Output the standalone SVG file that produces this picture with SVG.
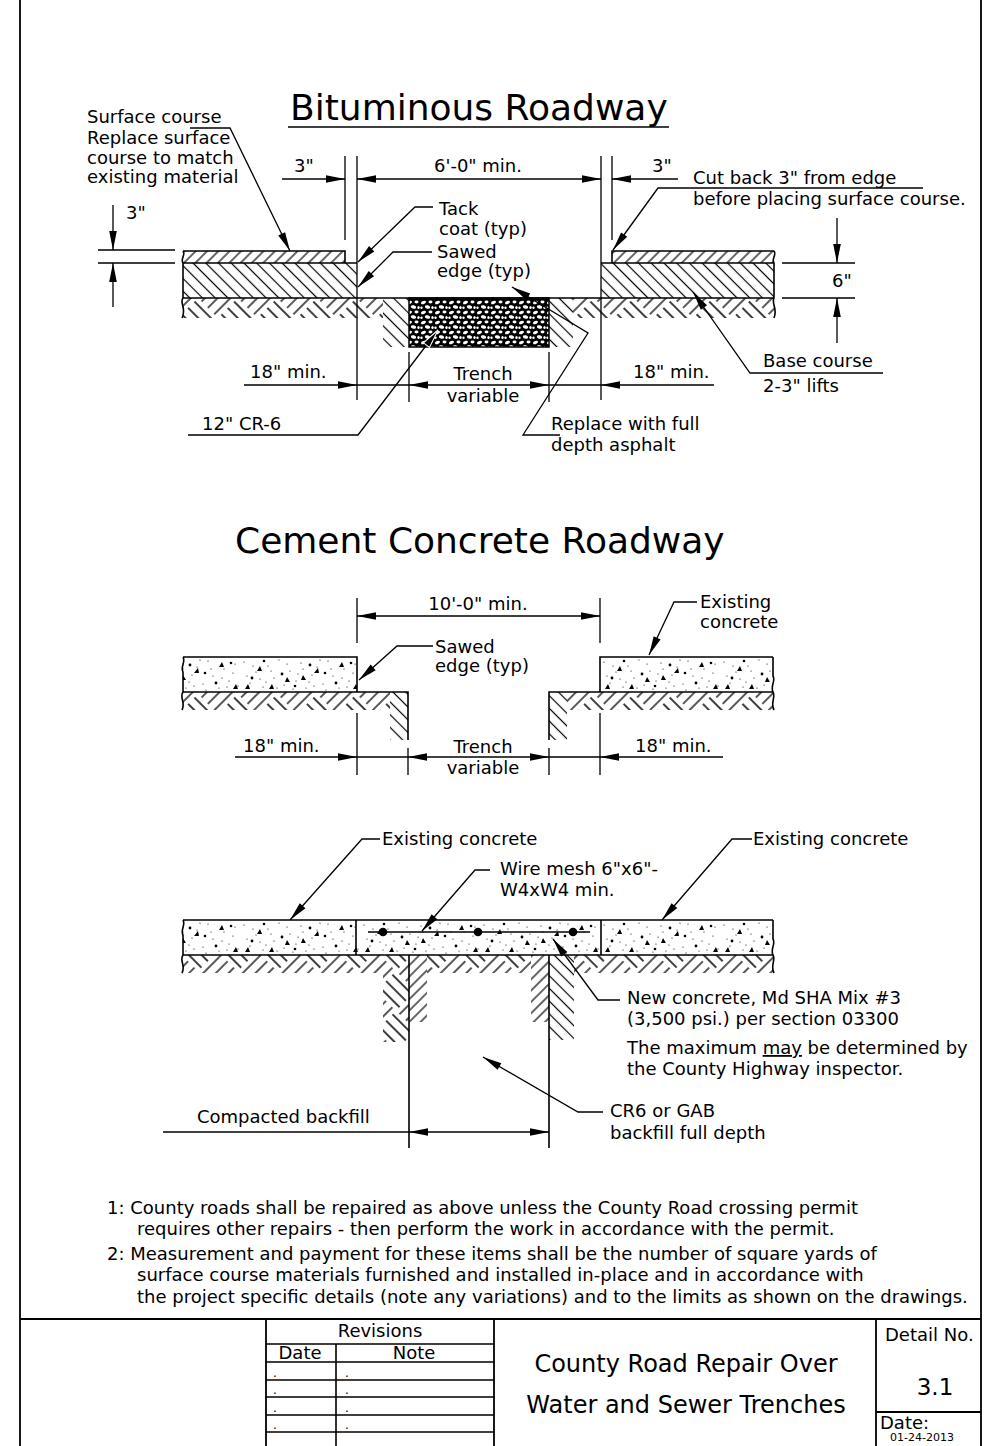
<svg xmlns="http://www.w3.org/2000/svg" width="984" height="1446" viewBox="0 0 984 1446">
<style>
text{font-family:"DejaVu Sans",Verdana,sans-serif;font-size:18px;fill:#000}
.h{font-size:36px}
.tb{font-size:24px}
.m{text-anchor:middle}
.dot{font-size:12px}
.ln{fill:none;stroke:#000;stroke-width:1.3}
.ol{fill:none;stroke:#000;stroke-width:1.6}
.th{fill:none;stroke:#000;stroke-width:1.8}
.a1{marker-end:url(#ar)}
.a2{marker-start:url(#ar);marker-end:url(#ar)}
</style>
<defs>
<marker id="ar" viewBox="-21 -5 22 10" refX="0" refY="0" markerWidth="22" markerHeight="10" markerUnits="userSpaceOnUse" orient="auto-start-reverse"><path d="M0,0 L-19,-3.8 L-19,3.8 Z" fill="#000"/></marker>
<marker id="arw" viewBox="-22 -6 24 12" refX="0" refY="0" markerWidth="24" markerHeight="12" markerUnits="userSpaceOnUse" orient="auto"><path d="M0,0 L-19,-3.8 L-19,3.8 Z" fill="#000" stroke="#fff" stroke-width="1"/></marker>
<pattern id="hs" width="8" height="8" patternUnits="userSpaceOnUse" patternTransform="rotate(45)"><line x1="4" y1="0" x2="4" y2="8" stroke="#000" stroke-width="1.2"/></pattern>
<pattern id="hb" width="9" height="9" patternUnits="userSpaceOnUse" patternTransform="rotate(-45)"><line x1="4.5" y1="0" x2="4.5" y2="9" stroke="#000" stroke-width="1.2"/></pattern>
<pattern id="ea" width="56" height="56" patternUnits="userSpaceOnUse" patternTransform="translate(0,298) rotate(45)"><path d="M0,5H28M0,14H28M0,23H28M28,33H56M28,42H56M28,51H56M33,0V28M42,0V28M51,0V28M5,28V56M14,28V56M23,28V56" stroke="#000" stroke-width="1.3" fill="none"/></pattern>
<pattern id="cr" width="14" height="10" patternUnits="userSpaceOnUse"><rect width="14" height="10" fill="#000"/><ellipse cx="3.5" cy="2.5" rx="2.6" ry="1.6" transform="rotate(-20 3.5 2.5)" fill="#fff"/><ellipse cx="10.5" cy="2" rx="2" ry="1.4" fill="#fff"/><ellipse cx="7.5" cy="7" rx="2.7" ry="1.7" transform="rotate(15 7.5 7)" fill="#fff"/><ellipse cx="1.5" cy="7.8" rx="1.2" ry="1.2" fill="#fff"/><ellipse cx="12.5" cy="7.5" rx="1.2" ry="1.5" fill="#fff"/></pattern>
<g id="stip" fill="#000">
<circle cx="4" cy="5" r="0.6"/><circle cx="10" cy="26" r="0.6"/><circle cx="16" cy="15" r="0.6"/><circle cx="23" cy="30" r="0.6"/><circle cx="28" cy="9" r="0.6"/><circle cx="34" cy="21" r="0.6"/><circle cx="39" cy="3" r="0.6"/><circle cx="44" cy="28" r="0.6"/><circle cx="50" cy="14" r="0.6"/><circle cx="56" cy="24" r="0.6"/><circle cx="61" cy="6" r="0.6"/><circle cx="66" cy="31" r="0.6"/><circle cx="72" cy="18" r="0.6"/><circle cx="77" cy="10" r="0.6"/><circle cx="83" cy="27" r="0.6"/><circle cx="88" cy="4" r="0.6"/><circle cx="93" cy="19" r="0.6"/><circle cx="99" cy="31" r="0.6"/><circle cx="104" cy="12" r="0.6"/><circle cx="109" cy="24" r="0.6"/><circle cx="115" cy="7" r="0.6"/><circle cx="118" cy="29" r="0.6"/><circle cx="7" cy="19" r="0.6"/><circle cx="20" cy="22" r="0.6"/><circle cx="31" cy="14" r="0.6"/><circle cx="47" cy="7" r="0.6"/><circle cx="58" cy="17" r="0.6"/><circle cx="69" cy="25" r="0.6"/><circle cx="80" cy="3" r="0.6"/><circle cx="91" cy="12" r="0.6"/><circle cx="102" cy="21" r="0.6"/><circle cx="113" cy="16" r="0.6"/><circle cx="13" cy="9" r="0.6"/><circle cx="37" cy="31" r="0.6"/><circle cx="63" cy="12" r="0.6"/><circle cx="86" cy="33" r="0.6"/><circle cx="107" cy="30" r="0.6"/><circle cx="26" cy="25" r="0.6"/><circle cx="53" cy="32" r="0.6"/><circle cx="74" cy="29" r="0.6"/>
<circle cx="12" cy="21" r="1.4"/><circle cx="42" cy="17" r="1.4"/><circle cx="70" cy="8" r="1.4"/><circle cx="96" cy="26" r="1.4"/><circle cx="24" cy="4" r="1.3"/><circle cx="85" cy="16" r="1.3"/><circle cx="111" cy="6" r="1.3"/><circle cx="55" cy="29" r="1.3"/>
<polygon points="17,14 22,14 20,9"/><polygon points="45,25 50,25 47,20"/><polygon points="74,16 79,16 78,11"/><polygon points="99,10 104,10 102,5"/><polygon points="29,32 34,32 32,27"/><polygon points="61,23 66,23 63,18"/><polygon points="113,32 118,32 116,27"/><polygon points="5,32 10,32 8,27"/>
</g>
<pattern id="st1" x="0" y="657" width="120" height="35" patternUnits="userSpaceOnUse"><use href="#stip"/></pattern>
<pattern id="st2" x="0" y="920" width="120" height="35" patternUnits="userSpaceOnUse"><use href="#stip"/></pattern>
</defs>
<rect width="984" height="1446" fill="#fff"/>

<g id="frame"><path class="th" d="M20,0 V1446 M981,0 V1446"/></g>

<g id="bituminous-roadway">
<text class="h" x="290" y="120">Bituminous Roadway</text>
<path class="ln" d="M288,127 H669"/>
<rect x="183" y="251" width="162" height="12" fill="url(#hs)"/>
<rect x="183" y="263" width="174" height="35" fill="url(#hb)"/>
<rect x="612" y="251" width="162" height="12" fill="url(#hs)"/>
<rect x="601" y="263" width="173" height="35" fill="url(#hb)"/>
<rect x="183" y="298" width="591" height="20" fill="url(#ea)"/>
<rect x="383" y="298" width="26" height="49" fill="#fff"/><rect x="383" y="298" width="26" height="49" fill="url(#hb)"/>
<rect x="549" y="298" width="24" height="49" fill="#fff"/><rect x="549" y="298" width="24" height="49" fill="url(#hb)"/>
<rect x="409" y="298" width="140" height="49" fill="url(#cr)" stroke="#000" stroke-width="1.5"/>
<path class="ol" d="M183,251 H345 V263 M183,263 H357 M183,298 H774 M612,263 V251 H774 M601,263 H774 M183,251 C186,255 180,259 183,263 L183,298 C179,303 187,308 182,318 M774,251 C777,255 771,259 774,263 L774,298 C771,303 778,309 774,318"/>
</g>

<g id="bituminous-dimensions">
<path class="ln" d="M345,156 V240 M357,156 V400 M601,156 V400 M612,156 V240 M409,352 V402 M549,352 V402 M98,250 H175 M98,263 H175 M782,263 H855 M782,298 H855 M357,385 H409 M549,385 H601"/>
<path class="ln a1" d="M113,205 V250"/><path class="ln a1" d="M113,307 V263"/>
<path class="ln a1" d="M837,218 V263"/><path class="ln a1" d="M837,343 V298"/>
<path class="ln a1" d="M282,179 H345"/><path class="ln a2" d="M357,179 H601"/><path class="ln a1" d="M678,179 H612"/>
<path class="ln a1" d="M244,385 H357"/><path class="ln a2" d="M409,385 H549"/><path class="ln a1" d="M714,385 H601"/>
<text x="126" y="219">3"</text>
<text x="294" y="172">3"</text>
<text class="m" x="478" y="172">6'-0" min.</text>
<text x="652" y="172">3"</text>
<text x="832" y="287">6"</text>
<text x="250" y="378">18" min.</text>
<text class="m" x="483" y="380">Trench</text>
<text class="m" x="483" y="402">variable</text>
<text x="633" y="378">18" min.</text>
</g>

<g id="bituminous-leaders">
<path class="ln a1" d="M190,128 H230 L290,251"/>
<path class="ln a1" d="M433,207 H415 L358,262"/>
<path class="ln a1" d="M432,252 H393 L358,287"/>
<path class="ln a1" d="M923,188 H658 L613,250"/>
<path class="ln a1" d="M883,373 H750 L693,292"/>
<path class="ln a1" d="M560,435 H523 L588,333 L512,287"/>
<path class="ln" d="M188,435 H358 L438,330" marker-end="url(#arw)"/>
<text x="87" y="123">Surface course</text>
<text x="87" y="144">Replace surface</text>
<text x="87" y="164">course to match</text>
<text x="87" y="183">existing material</text>
<text x="439" y="215">Tack</text>
<text x="439" y="235">coat (typ)</text>
<text x="437" y="258">Sawed</text>
<text x="437" y="277">edge (typ)</text>
<text x="693" y="184">Cut back 3" from edge</text>
<text x="693" y="205">before placing surface course.</text>
<text x="763" y="367">Base course</text>
<text x="763" y="392">2-3" lifts</text>
<text x="202" y="430">12" CR-6</text>
<text x="551" y="430">Replace with full</text>
<text x="551" y="451">depth asphalt</text>
</g>

<g id="cement-concrete-roadway">
<text class="h" x="235" y="553">Cement Concrete Roadway</text>
<rect x="183" y="692" width="225" height="18" fill="url(#ea)"/>
<rect x="549" y="692" width="224" height="18" fill="url(#ea)"/>
<rect x="390" y="692" width="18" height="48" fill="#fff"/><rect x="390" y="692" width="18" height="48" fill="url(#hb)"/>
<rect x="549" y="692" width="18" height="48" fill="#fff"/><rect x="549" y="692" width="18" height="48" fill="url(#hb)"/>
<rect x="183" y="657" width="174" height="35" fill="url(#st1)"/>
<rect x="600" y="657" width="173" height="35" fill="url(#st1)"/>
<path class="ol" d="M183,657 H357 V692 M183,692 H408 V740 M600,692 V657 H773 M549,740 V692 H773 M183,657 C186,662 180,667 183,672 L183,692 C179,697 186,703 182,710 M773,657 L773,676 C776,681 770,686 773,692 C776,697 770,703 774,710"/>
<path class="ln" d="M357,598 V643 M600,598 V643 M357,713 V775 M600,713 V775 M408,748 V775 M549,748 V775 M357,757 H408 M549,757 H600"/>
<path class="ln a2" d="M357,616 H600"/>
<path class="ln a1" d="M235,757 H357"/><path class="ln a2" d="M408,757 H549"/><path class="ln a1" d="M723,757 H600"/>
<path class="ln a1" d="M433,646 H397 L359,680"/>
<path class="ln a1" d="M697,602 H674 L649,655"/>
<text class="m" x="478" y="610">10'-0" min.</text>
<text x="435" y="653">Sawed</text>
<text x="435" y="672">edge (typ)</text>
<text x="700" y="608">Existing</text>
<text x="700" y="628">concrete</text>
<text x="243" y="752">18" min.</text>
<text class="m" x="483" y="753">Trench</text>
<text class="m" x="483" y="774">variable</text>
<text x="635" y="752">18" min.</text>
</g>

<g id="concrete-repair-detail">
<rect x="183" y="955" width="590" height="18" fill="url(#ea)"/>
<rect x="383" y="955" width="26" height="87" fill="#fff"/><rect x="383" y="955" width="26" height="87" fill="url(#ea)"/>
<rect x="409" y="955" width="18" height="67" fill="#fff"/><rect x="409" y="955" width="18" height="67" fill="url(#hs)"/>
<rect x="531" y="955" width="18" height="67" fill="#fff"/><rect x="531" y="955" width="18" height="67" fill="url(#hs)"/>
<rect x="549" y="955" width="25" height="85" fill="#fff"/><rect x="549" y="955" width="25" height="85" fill="url(#hb)"/>
<rect x="183" y="920" width="590" height="35" fill="url(#st2)"/>
<path class="ol" d="M183,920 H773 M183,955 H773 M356,920 V955 M601,920 V955 M409,955 V1148 M549,955 V1148 M183,920 C186,925 180,930 183,935 L183,955 C179,960 186,966 182,973 M773,920 L773,939 C776,944 770,949 773,955 C776,960 770,966 774,973"/>
<path class="ln" d="M368,932 H590"/>
<circle cx="383" cy="932" r="4.3"/><circle cx="478" cy="932" r="4.3"/><circle cx="573" cy="932" r="4.3"/>
<path class="ln" d="M163,1132 H409"/>
<path class="ln a2" d="M409,1132 H549"/>
<path class="ln a1" d="M380,839 H362 L290,920"/>
<path class="ln a1" d="M490,870 H475 L422,931"/>
<path class="ln a1" d="M752,839 H732 L662,920"/>
<path class="ln a1" d="M620,1000 H598 L553,939"/>
<path class="ln a1" d="M603,1112 H578 L483,1057"/>
<text x="382" y="845">Existing concrete</text>
<text x="753" y="845">Existing concrete</text>
<text x="500" y="875">Wire mesh 6"x6"-</text>
<text x="500" y="896">W4xW4 min.</text>
<text x="627" y="1004">New concrete, Md SHA Mix #3</text>
<text x="627" y="1025">(3,500 psi.) per section 03300</text>
<text x="627" y="1054">The maximum <tspan text-decoration="underline">may</tspan> be determined by</text>
<text x="627" y="1075">the County Highway inspector.</text>
<text x="197" y="1123">Compacted backfill</text>
<text x="610" y="1117">CR6 or GAB</text>
<text x="610" y="1139">backfill full depth</text>
</g>

<g id="notes">
<text x="107" y="1214">1: County roads shall be repaired as above unless the County Road crossing permit</text>
<text x="137" y="1235">requires other repairs - then perform the work in accordance with the permit.</text>
<text x="107" y="1260">2: Measurement and payment for these items shall be the number of square yards of</text>
<text x="137" y="1281">surface course materials furnished and installed in-place and in accordance with</text>
<text x="137" y="1303">the project specific details (note any variations) and to the limits as shown on the drawings.</text>
</g>

<g id="title-block">
<path class="th" d="M20,1319 H981 M266,1319 V1446 M494,1319 V1446 M876,1319 V1446 M876,1412 H981"/>
<path class="ol" d="M266,1344 H494 M266,1362 H494 M266,1380 H494 M266,1397 H494 M266,1415 H494 M266,1432 H494 M336,1344 V1446"/>
<text class="m" x="380" y="1337">Revisions</text>
<text class="m" x="300" y="1359">Date</text>
<text class="m" x="414" y="1359">Note</text>
<text class="dot" x="273" y="1377">.</text><text class="dot" x="345" y="1377">.</text>
<text class="dot" x="273" y="1394">.</text><text class="dot" x="345" y="1394">.</text>
<text class="dot" x="273" y="1412">.</text><text class="dot" x="345" y="1412">.</text>
<text class="dot" x="273" y="1429">.</text><text class="dot" x="345" y="1429">.</text>
<text class="tb m" x="686" y="1372">County Road Repair Over</text>
<text class="tb m" x="686" y="1413">Water and Sewer Trenches</text>
<text x="885" y="1341">Detail No.</text>
<text class="m" x="935" y="1395" style="font-size:23px">3.1</text>
<text x="880" y="1429">Date:</text>
<text x="890" y="1441" style="font-size:11px">01-24-2013</text>
</g>
</svg>
